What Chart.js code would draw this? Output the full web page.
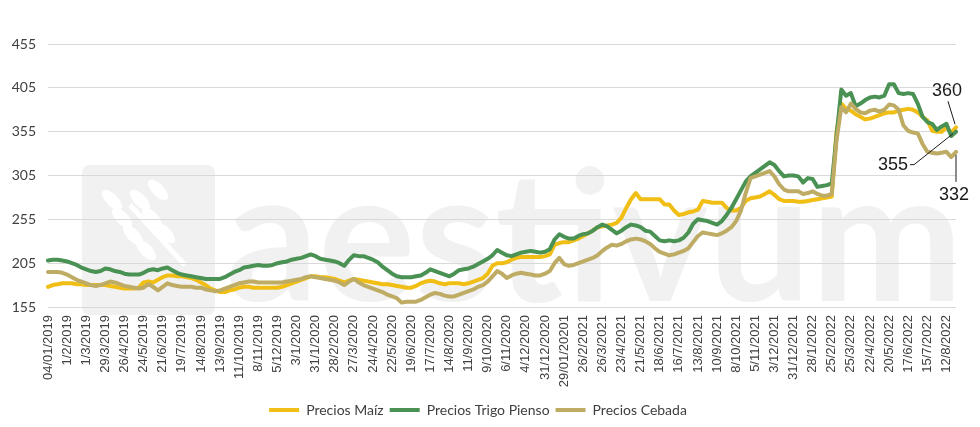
<!DOCTYPE html>
<html>
<head>
<meta charset="utf-8">
<script src="https://cdn.jsdelivr.net/npm/chart.js@4.4.0/dist/chart.umd.min.js"></script>
<style>
  html, body { margin: 0; padding: 0; background: #fff; }
</style>
</head>
<body>
<canvas id="preciosChart" width="980" height="427"></canvas>
<script>
//Tick labels, one every 4 weeks
const tickLabels = [
    '04/01/2019', '1/2/2019', '1/3/2019', '29/3/2019', '26/4/2019', '24/5/2019', '21/6/2019', '19/7/2019',
    '14/8/2019', '13/9/2019', '11/10/2019', '8/11/2019', '5/12/2019', '3/1/2020', '31/1/2020', '28/2/2020',
    '27/3/2020', '24/4/2020', '22/5/2020', '19/6/2020', '17/7/2020', '14/8/2020', '11/9/2020', '9/10/2020',
    '6/11/2020', '4/12/2020', '31/12/2020', '29/01/20201', '26/2/2021', '26/3/2021', '23/4/2021', '21/5/2021',
    '18/6/2021', '16/7/2021', '13/8/2021', '10/9/2021', '8/10/2021', '5/11/2021', '3/12/2021', '31/12/2021',
    '28/1/2022', '25/2/2022', '25/3/2022', '22/4/2022', '20/5/2022', '17/6/2022', '15/7/2022', '12/8/2022'
];

//Weekly prices (EUR/t)
const precioMaiz = [
    178, 180, 181, 182, 182, 182, 181, 181, 180, 180, 180, 180,
    180, 179, 178, 177, 176, 176, 176, 177, 183, 184, 183, 186,
    189, 191, 191, 190, 190, 189, 188, 186, 183, 180, 176, 174,
    172, 172, 174, 175, 177, 178, 178, 177, 177, 177, 177, 177,
    177, 178, 180, 182, 184, 186, 188, 190, 190, 189, 189, 188,
    187, 185, 183, 185, 187, 186, 185, 184, 183, 182, 181, 181,
    180, 179, 178, 177, 177, 179, 182, 184, 185, 184, 182, 181,
    182, 182, 182, 181, 182, 184, 186, 188, 193, 202, 205, 205,
    206, 209, 211, 212, 212, 212, 212, 212, 213, 215, 226, 228,
    229, 229, 231, 233, 236, 239, 242, 246, 247, 248, 249, 251,
    257, 268, 278, 285, 278, 278, 278, 278, 278, 272, 272, 265,
    260, 261, 263, 264, 266, 276, 275, 274, 274, 274, 268, 265,
    265, 268, 276, 279, 280, 281, 284, 287, 283, 278, 276, 276,
    276, 275, 275, 276, 277, 278, 279, 280, 281, 355, 387, 381,
    379, 375, 372, 369, 370, 372, 374, 376, 377, 377, 379, 380,
    381, 380, 377, 372, 368, 356, 355, 355, 360, 354, 360
];
const precioTrigo = [
    208, 209, 209, 208, 207, 205, 203, 200, 198, 196, 195, 196,
    199, 198, 196, 195, 193, 192, 192, 192, 194, 197, 198, 197,
    199, 200, 197, 194, 192, 191, 190, 189, 188, 187, 187, 187,
    187, 189, 192, 195, 197, 200, 201, 202, 203, 202, 202, 203,
    205, 206, 207, 209, 210, 211, 213, 215, 213, 210, 209, 208,
    207, 205, 202, 209, 214, 213, 213, 211, 209, 206, 201, 197,
    193, 190, 189, 189, 189, 190, 191, 194, 198, 196, 194, 192,
    190, 193, 197, 198, 199, 201, 204, 207, 210, 214, 220, 217,
    214, 213, 215, 217, 218, 219, 218, 217, 218, 221, 232, 238,
    235, 233, 233, 236, 238, 239, 242, 246, 249, 247, 243, 239,
    242, 246, 249, 248, 246, 242, 241, 236, 231, 230, 231, 230,
    231, 234, 240, 250, 255, 254, 253, 251, 249, 253, 260, 268,
    278, 288, 298, 304, 308, 312, 316, 320, 317, 310, 304, 305,
    305, 304, 297, 302, 301, 292, 293, 294, 296, 350, 403, 396,
    399, 384, 387, 391, 394, 395, 394, 396, 409, 409, 399, 398,
    399, 398, 387, 372, 366, 364, 357, 361, 364, 350, 355
];
const precioCebada = [
    195, 195, 195, 194, 192, 189, 186, 184, 182, 180, 179, 180,
    182, 184, 183, 181, 179, 178, 177, 176, 177, 181, 178, 174,
    178, 182, 180, 179, 178, 178, 178, 177, 177, 175, 174, 173,
    174, 176, 178, 180, 182, 183, 184, 184, 183, 183, 183, 183,
    183, 183, 184, 185, 186, 187, 189, 190, 189, 188, 187, 186,
    185, 183, 180, 184, 187, 183, 180, 178, 176, 174, 172, 169,
    167, 165, 160, 161, 161, 161, 163, 166, 169, 171, 170, 168,
    167, 167, 169, 171, 173, 175, 178, 180, 184, 190, 196, 193,
    188, 191, 193, 194, 193, 192, 191, 191, 193, 196, 205, 211,
    204, 202, 203, 205, 207, 209, 211, 214, 219, 223, 226, 225,
    227, 230, 232, 233, 232, 230, 227, 222, 218, 216, 214, 215,
    217, 219, 222, 229, 236, 240, 239, 238, 237, 239, 242, 246,
    253, 265, 285, 302, 304, 306, 308, 310, 304, 295, 289, 287,
    287, 287, 284, 285, 287, 284, 282, 282, 284, 345, 383, 377,
    387, 381, 377, 376, 379, 380, 378, 380, 386, 385, 380, 362,
    356, 354, 353, 341, 332, 331, 330, 331, 332, 326, 332
];

const seriesNames = ['Precios Maíz', 'Precios Trigo Pienso', 'Precios Cebada'];
const seriesColors = ['#F0BE15', '#4A9154', '#BEAC64'];

//One category per week, label only every 4th
const weekLabels = precioMaiz.map((v, i) => (i % 4 === 0 && tickLabels[i / 4]) ? tickLabels[i / 4] : '');

//Background logo
const watermark = {
    id: 'watermark',
    beforeDraw(chart) {
        const ctx = chart.ctx;
        ctx.save();
        ctx.fillStyle = '#f1f1f1';
        ctx.beginPath();
        ctx.roundRect(82, 165, 133, 150, 8);
        ctx.fill();
        //wheat
        ctx.strokeStyle = '#ffffff';
        ctx.fillStyle = '#ffffff';
        ctx.lineWidth = 5;
        ctx.beginPath();
        ctx.moveTo(130, 205);
        ctx.lineTo(185, 265);
        ctx.stroke();
        const grains = [[122, 218, 0.8], [140, 200, 0.8], [133, 235, 0.8], [152, 218, 0.8], [146, 250, 0.8], [165, 233, 0.8], [158, 190, 0.8], [112, 200, 0.8]];
        grains.forEach(g => {
            ctx.beginPath();
            ctx.ellipse(g[0], g[1], 13, 6, g[2], 0, Math.PI * 2);
            ctx.fill();
        });
        ctx.fillStyle = '#f1f1f1';
        let size = 190;
        ctx.font = 'bold ' + size + 'px Lato';
        const w = ctx.measureText('aestivum').width;
        size = size * 737 / w;
        ctx.font = 'bold ' + size + 'px Lato';
        ctx.textBaseline = 'alphabetic';
        ctx.fillText('aestivum', 226, 301);
        ctx.restore();
    }
};

//Last value callouts
const endLabels = {
    id: 'endLabels',
    afterDatasetsDraw(chart) {
        const ctx = chart.ctx;
        const last = precioMaiz.length - 1;
        const pM = chart.getDatasetMeta(0).data[last];
        const pT = chart.getDatasetMeta(1).data[last];
        const pC = chart.getDatasetMeta(2).data[last];
        ctx.save();
        ctx.strokeStyle = '#1a1a1a';
        ctx.fillStyle = '#1a1a1a';
        ctx.lineWidth = 1;
        ctx.font = '18px "Liberation Sans"';
        ctx.textBaseline = 'middle';

        ctx.beginPath();
        ctx.moveTo(pM.x - 8, pM.y - 26);
        ctx.lineTo(pM.x - 1, pM.y - 3);
        ctx.moveTo(pT.x - 3, pT.y + 2);
        ctx.lineTo(pT.x - 42, pT.y + 33);
        ctx.lineTo(pT.x - 46, pT.y + 33);
        ctx.moveTo(pC.x, pC.y + 3);
        ctx.lineTo(pC.x, pC.y + 30);
        ctx.stroke();

        ctx.textAlign = 'center';
        ctx.fillText(precioMaiz[last], pM.x - 9, pM.y - 36);
        ctx.fillText(precioCebada[last], pC.x - 2, pC.y + 43);
        ctx.textAlign = 'right';
        ctx.fillText(precioTrigo[last], pT.x - 48, pT.y + 33);
        ctx.restore();
    }
};

function renderPreciosChart() {
    const ctx = document.getElementById('preciosChart').getContext('2d');
    const values = [precioMaiz, precioTrigo, precioCebada];
    const data = {
        labels: weekLabels,
        datasets: values.map((v, i) => ({
            label: seriesNames[i],
            data: v,
            borderColor: seriesColors[i],
            backgroundColor: seriesColors[i],
            borderWidth: 4,
            pointRadius: 0,
            tension: 0,
            borderJoinStyle: 'round',
            borderCapStyle: 'round',
            order: 3 - i
        }))
    };

    const options = {
        responsive: false,
        animation: false,
        layout: {
            padding: { top: 44, right: 24, bottom: 0, left: 0 }
        },
        scales: {
            y: {
                min: 155,
                max: 455,
                afterFit: scale => { scale.width = 48; },
                ticks: {
                    stepSize: 50,
                    padding: 12,
                    color: '#404040',
                    font: { family: 'Lato', size: 14 }
                },
                grid: { color: '#d9d9d9', drawTicks: false },
                border: { display: false }
            },
            x: {
                afterFit: scale => { scale.height = 90; },
                ticks: {
                    autoSkip: false,
                    minRotation: 90,
                    maxRotation: 90,
                    padding: 8,
                    color: '#404040',
                    font: { family: 'Liberation Sans', size: 13 }
                },
                grid: { display: false, drawTicks: false },
                border: { display: false }
            }
        },
        plugins: {
            legend: {
                position: 'bottom',
                labels: {
                    boxWidth: 30,
                    boxHeight: 4,
                    padding: 6,
                    color: '#404040',
                    font: { family: 'Lato', size: 14 },
                    generateLabels: chart => chart.data.datasets.map((ds, i) => ({
                        text: ds.label,
                        fillStyle: ds.borderColor,
                        strokeStyle: ds.borderColor,
                        lineWidth: 0,
                        fontColor: '#404040',
                        hidden: false,
                        datasetIndex: i
                    }))
                }
            },
            tooltip: { enabled: false }
        }
    };

    new Chart(ctx, {
        type: 'line',
        data: data,
        options: options,
        plugins: [watermark, endLabels]
    });
}

renderPreciosChart();
</script>
</body>
</html>
